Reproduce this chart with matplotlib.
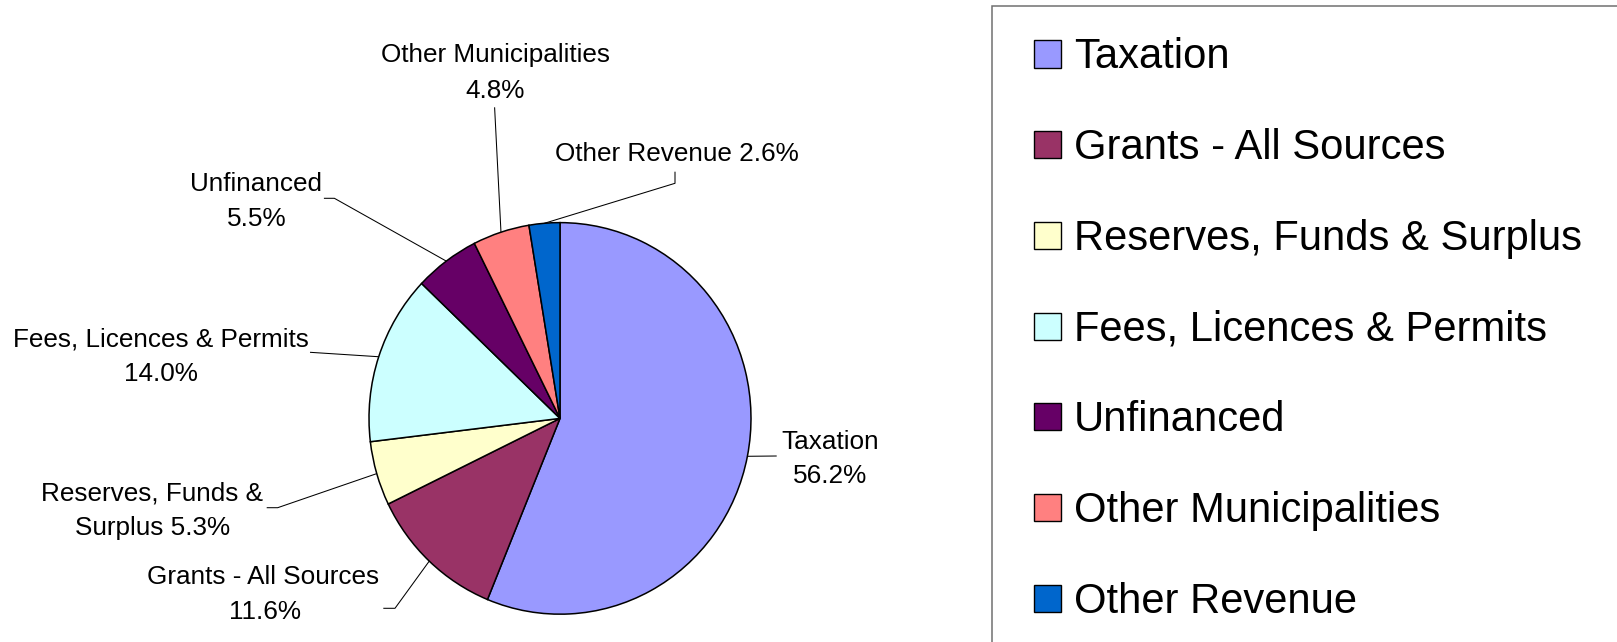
import matplotlib
matplotlib.use("Agg")
import matplotlib.pyplot as plt
from matplotlib.patches import Rectangle
import numpy as np

# ---------------- data ----------------
categories = ["Taxation", "Grants - All Sources", "Reserves, Funds & Surplus",
              "Fees, Licences & Permits", "Unfinanced", "Other Municipalities",
              "Other Revenue"]
shares = [56.2, 11.6, 5.3, 14.0, 5.5, 4.8, 2.6]
colors = ["#9999FF", "#993366", "#FFFFCC", "#CCFFFF", "#660066", "#FF8080", "#0066CC"]

# ---------------- layout (pixel positions, image coords: y down) ----------------
W, H, DPI = 1617, 642, 100
SY = 1.025               # slight vertical stretch of the pie
PIE_CX, PIE_CY, PIE_R = 560, 418.4, 191

# label template, line centres (x, y), leader points from label toward wedge
label_layout = [
    ("{n}\n{p}",  [(830, 440), (830, 474)],      [(776.7, 456)]),
    ("{n}\n{p}",  [(263, 574.5), (265, 610)],    [(383.3, 608.3), (395, 608.3)]),
    ("{nw} {p}",  [(152, 491), (153, 526)],      [(266.7, 507.7), (277.7, 507.7)]),
    ("{n}\n{p}",  [(161, 337), (161, 371.7)],    [(310, 352.3)]),
    ("{n}\n{p}",  [(255.5, 182), (256.6, 216.7)], [(323.9, 198.3), (334.4, 198.3)]),
    ("{n}\n{p}",  [(495, 52.5), (494.6, 88.3)],  [(494.6, 107.3)]),
    ("{n} {p}",   [(677, 152)],                  [(675, 171.7), (675, 183.3)]),
]

FONT = "Liberation Sans"
LABEL_SIZE = 18.8
LEGEND_SIZE = 30.1

fig = plt.figure(figsize=(W / DPI, H / DPI), dpi=DPI)
fig.patch.set_facecolor("white")
ax = fig.add_axes([0, 0, 1, 1])


def P(x, y):
    return x, (H - y) / SY


cx, cy = P(PIE_CX, PIE_CY)
wedges, _ = ax.pie(shares, colors=colors, startangle=90, counterclock=False,
                   radius=PIE_R, center=(cx, cy), frame=True,
                   wedgeprops=dict(edgecolor="black", linewidth=1.1))
ax.set_xlim(0, W)
ax.set_ylim(0, H / SY)
ax.set_aspect("auto")
ax.axis("off")

# ---------------- labels with leader lines ----------------
for w, name, val, (tmpl, centres, leader) in zip(wedges, categories, shares, label_layout):
    words = name.split(" ")
    nw = " ".join(words[:-1]) + "\n" + words[-1]
    text = tmpl.format(n=name, nw=nw, p=f"{val:.1f}%")
    for line, (x, y) in zip(text.split("\n"), centres):
        tx, ty = P(x, y + 9.4)
        ax.text(tx, ty, line, ha="center", va="baseline", fontsize=LABEL_SIZE,
                family=FONT, color="black")
    mid = np.deg2rad((w.theta1 + w.theta2) / 2)
    ex = cx + PIE_R * np.cos(mid)
    ey = cy + PIE_R * np.sin(mid)
    pts = [P(x, y) for x, y in leader] + [(ex, ey)]
    xs, ys = zip(*pts)
    ax.plot(xs, ys, color="black", lw=0.75, solid_capstyle="butt")

# ---------------- legend ----------------
bx, by = P(992.3, 5.7)
ax.add_patch(Rectangle((bx, -20), W + 50 - bx, by + 20, facecolor="none",
                       edgecolor="#707070", lw=1.1, clip_on=False))
ROW0, PITCH, SQ = 54, 90.67, 27
for i, (name, col) in enumerate(zip(categories, colors)):
    yc = ROW0 + PITCH * i
    x0, y0 = P(1034, yc + SQ / 2)
    ax.add_patch(Rectangle((x0, y0), SQ, SQ / SY, facecolor=col,
                           edgecolor="black", lw=1.0))
    tx, ty = P(1074, yc + 14.5)
    ax.text(tx, ty, name, ha="left", va="baseline", fontsize=LEGEND_SIZE,
            family=FONT, color="black")

fig.savefig("out.png", dpi=DPI, facecolor="white")
